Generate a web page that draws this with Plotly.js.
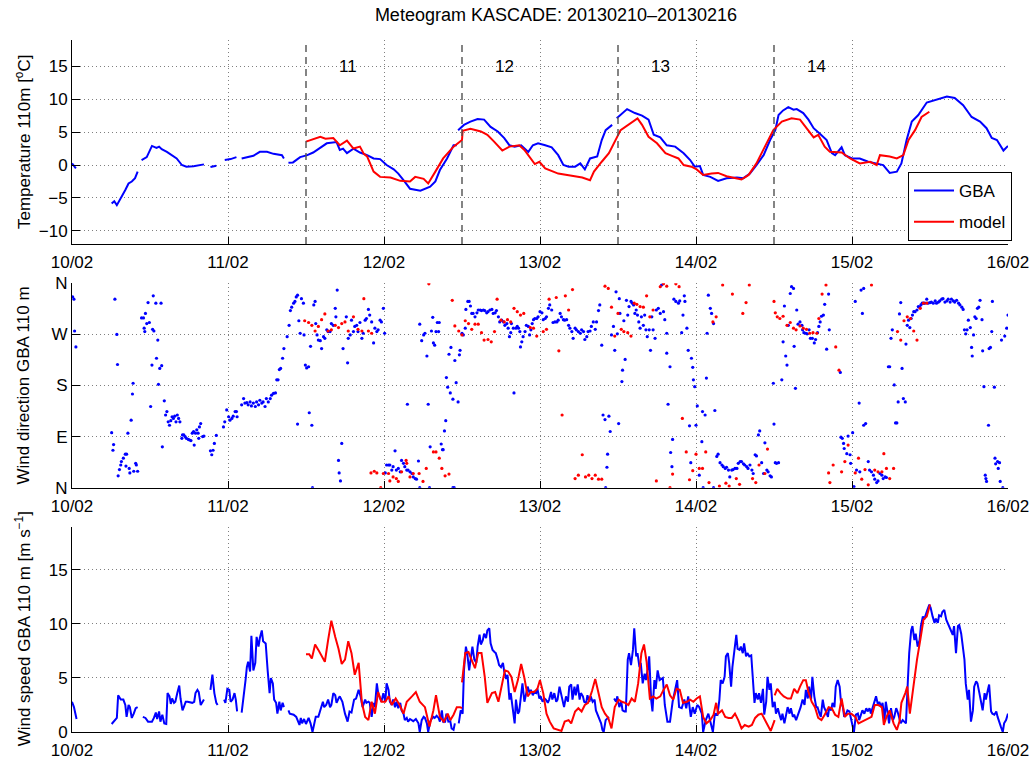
<!DOCTYPE html>
<html>
<head>
<meta charset="utf-8">
<script src="https://cdn.plot.ly/plotly-3.0.1.min.js"></script>
<style>html,body{margin:0;padding:0;background:#fff;}#chart{width:1035px;height:762px;}</style>
</head>
<body>
<div id="chart"></div>
<script>
// ---------- DATA (hours since 10/02/2013 00:00, value) ----------
const dayLabels = ['10/02','11/02','12/02','13/02','14/02','15/02','16/02'];
const runStartHours = [36, 60, 84, 108];
const runLabels = ['11','12','13','14'];
const dirTickVals = [0, 90, 180, 270, 360];
const dirTickText = ['N','E','S','W','N'];

// Temperature 110 m [°C]
const tempGBA = [[0,0.25],[0.6,-0.5],[3,null],
[6.1,-5.85],[6.5,-5.5],[6.9,-6.1],[7.7,-4.8],[8.2,-3.8],[8.7,-2.8],[9.2,-2.5],[9.7,-2.0],[10.1,-1.0],[10.4,null],
[10.7,0.76],[11.5,1.2],[12.3,2.9],[13.0,2.6],[13.4,2.8],[13.8,2.4],[14.6,2.0],[15.3,1.5],[16.1,1.0],[16.9,0],[17.6,-0.25],[18.7,-0.2],[19.7,0],[20.3,0.1],[20.8,null],
[21.3,-0.3],[22.2,-0.1],[22.8,null],
[23.5,0.76],[24.4,0.9],[25.3,1.2],[25.7,null],
[26.1,1.0],[27.9,1.4],[28.9,2.0],[30,2.0],[31,1.7],[32.3,1.5],[32.6,1.0],[33.0,null],
[33.3,0.35],[34,0.4],[35.1,1.2],[36.2,1.5],[37.1,1.9],[38.2,2.6],[39.2,3.3],[40.7,3.5],[41.2,2.3],[41.7,2.5],[42.3,1.8],[43.3,2.5],[44.3,1.9],[45.4,1.5],[46.4,1.0],[47.4,0.9],[48.4,0],[49.5,-0.66],[50.2,-1.3],[51,-2.3],[52,-3.6],[53.6,-3.9],[55.1,-3.3],[55.9,-2.5],[56.6,-0.76],[57.7,1.0],[58.7,3.0],[59.2,3.0],[59.3,null],
[59.4,5.3],[60.3,6.1],[61.3,6.6],[62.4,7.0],[63.4,6.9],[64.4,5.8],[65.5,5.1],[66.5,4.1],[67.3,3.0],[68.1,2.8],[69.1,3.0],[70.2,2.0],[70.9,3.0],[71.7,3.3],[72.8,3.0],[73.8,2.7],[74.8,1.5],[75.6,0],[76.4,-0.25],[77.4,-0.25],[78.2,0.25],[78.9,-0.66],[79.7,1.0],[80.8,1.3],[81.5,3.8],[82.1,5.3],[83.1,6.1],[83.5,null],
[83.8,7.1],[85.4,8.5],[86.6,7.9],[87.7,7.5],[88.7,6.9],[89.5,4.6],[90.5,4.2],[91.5,3.0],[92.8,2.8],[94.1,1.8],[95.1,0.76],[95.8,-0.25],[96.6,-0.15],[97.1,-1.5],[98.2,-1.8],[99.4,-2.4],[100.7,-2.0],[102.3,-1.9],[103.3,-2.0],[104.3,-1.3],[105.3,0],[106.4,1.5],[107.4,3.8],[108.2,5.3],[108.7,7.6],[109.4,8.3],[110.2,8.8],[111,8.4],[111.5,8.5],[112.5,7.9],[113.3,6.9],[114.1,5.6],[115.1,4.7],[116.1,3.8],[116.9,1.8],[117.4,1.5],[118.4,2.7],[118.9,1.5],[120,1.0],[121.2,1.0],[122.5,0.5],[123.8,0.25],[124.8,0],[125.8,-1.2],[126.9,-1.0],[127.6,0.25],[128.4,3.8],[129.2,6.6],[130.2,7.6],[131.5,9.5],[133,9.9],[134.6,10.4],[135.8,10.2],[137.1,9.1],[138.4,7.3],[139.7,6.6],[140.7,5.6],[141.5,4.1],[142.3,3.8],[143.3,2.2],[144,2.9]];

const tempModel = [[36,3.55],[37,3.9],[38.2,4.3],[39,4.0],[40.2,4.1],[41.2,3.0],[42.3,3.7],[43.3,2.5],[44.3,2.8],[44.9,1.7],[45.4,1.3],[46.4,-1.0],[47.4,-1.8],[49,-1.9],[50.5,-2.4],[52,-2.5],[52.8,-1.8],[54.1,-2.1],[54.8,-2.8],[55.9,-1.0],[57.1,1.0],[58.7,2.8],[60,3.8],
[60.1,5.2],[61.3,5.5],[62.9,5.1],[63.9,4.6],[64.9,3.6],[66.2,2.2],[67.3,2.8],[68.8,3.0],[69.6,2.3],[71.2,0.15],[71.9,0.5],[72.8,-0.5],[74.8,-1.3],[76.9,-1.7],[78.5,-1.9],[79.7,-2.3],[80.3,-1.0],[81.5,0.5],[82.6,1.8],[84.4,5.3],[85.7,6.2],[87,7.1],[87.7,6.1],[88.7,4.3],[90,3.3],[91.3,1.8],[92.3,1.4],[93.3,1.0],[94.1,0],[95.3,-0.25],[96.1,-0.66],[97.1,-1.5],[98.4,-1.3],[99.4,-1.2],[100.7,-1.7],[102,-2.0],[103,-2.2],[104.1,-1.5],[105.3,0.25],[106.6,2.8],[107.9,5.3],[109.2,6.6],[110.7,7.1],[112,6.9],[113,5.6],[114.1,4.2],[114.8,4.6],[115.8,2.8],[116.6,2.0],[117.6,1.9],[118.4,1.9],[119.7,1.0],[121.2,0.25],[122.8,0.5],[123.8,0],[124.3,1.5],[125.8,1.3],[126.9,1.0],[127.9,1.5],[128.7,3.8],[129.7,5.3],[130.7,7.3],[131.9,8.1]];

// Wind direction GBA 110 m [deg]
const dirGBA = [[0.1,336],[0.3,332],[0.4,276],[0.6,248],[6.1,97],[6.3,66],[6.4,76],[6.6,332],[6.9,270],[7.0,217],[7.1,21],[7.3,32],[7.5,40],[7.6,46],[7.9,52],[8.2,59],[8.3,38],[8.4,59],[8.6,96],[8.8,34],[8.9,26],[9.1,119],[9.3,165],[9.4,184],[9.5,29],[9.8,43],[9.9,40],[10.1,29],[10.7,299],[11.0,299],[11.1,281],[11.2,275],[11.3,307],[11.5,289],[11.7,326],[11.9,291],[12.1,143],[12.3,216],[12.4,279],[12.5,338],[12.6,276],[12.9,325],[13.0,228],[13.2,260],[13.3,182],[13.5,210],[13.7,325],[13.8,215],[13.9,72],[14.2,153],[14.4,128],[14.6,134],[14.8,116],[15.0,110],[15.2,118],[15.4,125],[15.6,122],[15.8,126],[16.0,116],[16.2,128],[16.4,122],[16.6,116],[16.9,87],[17.0,93],[17.2,93],[17.4,90],[17.6,87],[17.9,85],[18.1,84],[18.3,83],[18.5,96],[18.7,99],[18.8,75],[19.0,96],[19.2,102],[19.4,96],[19.5,87],[19.6,107],[19.8,113],[20.1,90],[20.3,91],[21.3,65],[21.5,58],[21.7,66],[21.9,78],[22.2,92],[23.3,107],[23.5,116],[23.8,137],[24.1,125],[24.3,119],[24.6,122],[24.8,126],[25.1,134],[25.3,134],[25.4,125],[26.1,146],[26.4,157],[26.6,149],[26.9,150],[27.1,146],[27.4,151],[27.6,144],[27.9,149],[28.2,143],[28.4,151],[28.7,146],[28.9,154],[29.2,149],[29.4,151],[29.7,143],[29.9,157],[30.2,151],[30.5,157],[30.7,163],[31.0,166],[31.3,167],[31.5,190],[31.7,190],[31.9,208],[32.1,210],[32.4,228],[32.6,245],[33.1,266],[33.4,286],[33.6,312],[33.8,318],[34.1,325],[34.3,328],[34.5,336],[34.7,339],[34.7,112],[34.9,294],[35.1,272],[35.3,333],[35.6,325],[35.7,269],[35.9,216],[36.1,211],[36.4,213],[36.5,132],[36.7,249],[36.9,110],[37.0,0],[37.2,322],[37.4,328],[37.5,289],[37.7,269],[37.9,260],[38.2,259],[38.4,245],[38.7,266],[38.9,263],[39.2,278],[39.4,275],[39.7,275],[39.9,289],[40.2,286],[40.5,316],[40.6,301],[40.8,348],[41.0,48],[41.1,26],[41.3,12],
[41.5,78],[41.7,245],[42.2,301],[42.4,220],[42.5,263],[42.8,269],[43.0,295],[43.3,275],[43.5,284],[43.8,286],[44.0,275],[44.3,291],[44.6,263],[44.8,272],[45.1,295],[45.3,298],[45.6,314],[45.8,304],[46.1,292],[46.4,255],[46.6,281],[46.9,275],[47.1,278],[47.4,295],[47.6,292],[47.9,316],[48.1,272],[48.2,26],[48.4,40],[48.7,40],[48.9,40],[49.2,31],[49.4,37],[49.7,65],[49.9,31],[50.2,34],[50.5,28],[50.7,48],[51.0,43],[51.2,37],[51.5,31],[51.6,147],[51.7,31],[52.0,28],[52.3,25],[52.5,19],[52.8,16],[53.0,15],[53.3,47],[53.5,0],[53.5,288],[53.8,259],[54.1,269],[54.3,272],[54.6,232],[54.8,147],[55.0,0],[55.1,72],[55.3,276],[55.5,300],[55.6,255],[55.8,251],[56.0,275],[56.2,291],[56.4,275],[56.5,291],[56.8,77],[57.0,67],[57.1,67],[57.3,100],[57.5,118],[57.6,194],[57.8,177],[58.0,235],[58.2,167],[58.3,247],[58.6,156],[58.6,0],[58.8,0],[58.9,224],[59.1,185],[59.4,151],[59.6,234],[59.7,242],[60.0,272],[60.2,269],[60.5,281],[60.6,314],[60.9,328],[61.1,328],[61.3,320],[61.5,307],[61.7,307],[62.0,301],[62.3,308],[62.5,313],[62.8,313],[63.0,312],[63.3,313],[63.5,312],[63.8,308],[64.0,310],[64.3,313],[64.6,314],[64.8,307],[65.1,308],[65.3,312],[65.6,301],[65.8,292],[66.1,295],[66.4,292],[66.6,286],[66.9,289],[67.1,281],[67.3,266],[67.5,273],[67.6,289],[67.9,281],[68.0,167],[68.3,281],[68.5,284],[68.7,281],[68.9,275],[69.0,248],[69.2,257],[69.4,266],[69.7,275],[69.9,286],[70.2,284],[70.4,269],[70.6,278],[70.8,289],[71.0,296],[71.2,298],[71.5,298],[71.7,301],[72.0,310],[72.3,308],[72.5,296],[72.8,298],[73.0,301],[73.3,316],[73.5,322],[73.8,313],[74.0,291],[74.3,292],[74.6,292],[74.8,295],[75.1,307],[75.3,301],[75.6,296],[75.8,295],[76.1,296],[76.4,286],[76.6,281],[76.9,275],[77.1,263],[77.4,281],[77.6,278],[77.9,275],[78.2,272],[78.4,278],[78.7,275],[78.9,261],[79.2,266],[79.4,275],[79.7,276],[79.9,284],[80.2,292],[80.5,279],[80.7,292],[81.0,312],[81.2,322],[81.5,251],[81.7,128],[82.0,120],[82.1,0],[82.3,36],[82.4,59],[82.6,126],[82.8,99],[83.0,269],[83.3,284],[83.5,242],[83.7,345],[83.9,271],[84.1,113],[84.2,333],[84.3,307],[84.6,187],[84.7,207],[84.9,294],[85.1,226],[85.3,330],[85.5,304],[85.7,319],[86.0,328],[86.2,325],[86.4,322],[86.6,307],[86.8,313],[87.0,304],[87.2,292],[87.4,281],[87.6,301],[87.9,286],[88.1,304],[88.3,278],[88.5,266],[88.8,278],[89.0,242],[89.2,301],[89.4,278],[89.7,263],[89.9,313],[90.2,316],
[90.5,307],[90.7,357],[91.0,310],[91.2,296],[91.5,272],[91.5,237],[91.7,147],[92.0,213],[92.1,62],[92.3,37],[92.4,85],[92.6,332],[92.9,328],[93.3,325],[93.5,329],[93.8,273],[94.0,304],[94.2,338],[94.3,328],[94.6,281],[94.8,242],[95.0,109],[95.2,44],[95.3,228],[95.5,212],[95.6,190],[95.8,178],[96.0,110],[96.2,144],[96.5,22],[96.9,81],[97.0,134],[97.1,0],[97.4,128],[97.6,193],[97.7,272],[97.9,339],[98.2,316],[98.4,307],[98.7,289],[98.7,0],[98.9,136],[99.2,55],[99.4,59],[99.7,44],[100.0,40],[100.2,37],[100.5,34],[100.7,36],[101.0,31],[101.2,19],[101.5,31],[101.7,32],[102.0,34],[102.3,34],[102.5,43],[102.8,46],[103.0,46],[103.3,42],[103.5,40],[103.8,37],[104.0,34],[104.3,40],[104.6,31],[104.8,25],[105.1,58],[105.3,56],[105.6,93],[105.8,100],[106.1,44],[106.4,25],[106.6,79],[106.9,31],[107.1,28],[107.4,21],[107.6,19],[107.9,184],[108.0,112],[108.2,44],[108.4,43],[108.7,44],[109.2,190],[109.4,257],[109.6,320],[109.8,232],[110.0,216],[110.2,286],[110.5,342],[110.7,354],[111.0,351],[111.1,249],[111.3,175],[111.5,313],[111.7,288],[112.0,292],[112.3,286],[112.4,278],[112.6,273],[112.9,272],[113.1,271],[113.4,278],[113.6,263],[113.9,263],[114.2,255],[114.4,261],[114.7,273],[114.9,284],[115.1,292],[115.3,302],[115.6,304],[115.8,323],[116.1,244],[116.4,341],[116.5,278],[118.2,203],[118.3,89],[118.5,87],[118.7,78],[118.8,69],[119.2,60],[119.4,91],[119.7,58],[119.8,43],[120.1,97],[120.3,2],[120.5,328],[120.7,31],[121.1,149],[121.2,28],[121.4,348],[121.6,307],[121.8,351],[121.8,110],[122.1,113],[122.5,46],[122.7,31],[123.0,28],[123.3,22],[123.5,15],[123.8,9],[124.0,12],[124.3,25],[124.6,22],[124.8,16],[125.1,19],[125.3,18],[125.6,213],[125.8,213],[126.0,263],[126.2,278],[126.5,181],[126.7,114],[126.9,114],[127.1,151],[127.3,306],[127.5,326],[127.7,210],[127.9,157],[128.2,151],[128.3,253],[128.5,286],[128.7,295],[128.9,282],[129.1,298],[129.3,304],[129.5,310],[129.7,310],[130.0,313],[130.2,319],[130.4,318],[130.6,322],[130.8,325],[131.0,325],[131.2,325],[131.5,332],[131.7,325],[132.0,326],[132.2,327],[132.5,325],[132.8,329],[133.0,325],[133.3,327],[133.5,329],[133.8,332],[134.0,333],[134.3,327],[134.6,329],[134.8,332],[135.1,327],[135.3,332],[135.6,329],[135.8,327],[136.1,330],[136.4,325],[136.6,322],[136.9,318],[137.1,314],[137.3,278],[137.5,271],[137.7,278],[137.9,295],[138.2,282],[138.4,247],[138.5,232],[138.7,269],[138.9,301],[139.1,298],[139.3,316],[139.5,318],[139.7,330],[140.0,296],[140.1,241],[140.3,178],[140.5,22],[140.6,16],[140.7,11],[141.0,110],[141.1,245],[141.3,247],[141.5,275],[141.6,328],[141.9,177],[142.0,52],[142.1,42],[142.4,46],[142.5,34],[142.7,44],[142.8,11],[143.0,260],[143.2,0],[143.5,267],[143.8,281],[144.0,304]];

const dirModel = [[35.8,294],[36.4,291],[36.9,286],[37.4,276],[37.9,284],[38.4,296],[38.9,306],[39.4,276],[39.9,278],[40.5,286],[41.0,282],[41.5,289],[42.0,292],[42.5,276],[43.3,301],[44.0,279],[44.6,276],[44.9,333],[45.6,276],[46.0,26],[46.1,272],[46.5,29],[46.9,26],[47.5,0],[47.9,25],[48.7,25],[48.9,12],[49.4,19],[49.9,16],[50.2,11],[50.7,28],[51.4,48],[51.5,43],[52.0,19],[52.5,25],[53.4,25],[54.0,11],[54.5,34],[54.9,359],[55.6,63],[56.0,63],[56.5,52],[56.9,34],[57.4,21],[58.0,24],[58.5,330],[58.9,285],[59.5,276],[60.0,269],[60.5,294],[61.0,289],[61.5,279],[62.0,288],[62.5,288],[63.0,273],[63.4,260],[64.0,261],[64.5,257],[65.0,275],[65.4,332],[66.0,295],[66.5,292],[67.0,296],[67.5,292],[68.0,316],[68.5,310],[69.0,304],[69.5,307],[70.5,282],[71.0,281],[71.5,267],[72.5,275],[73.0,279],[73.4,332],[74.5,335],[74.9,241],[75.4,128],[75.9,338],[76.4,313],[77.0,349],[77.4,16],[77.9,22],[78.5,58],[79.0,19],[79.5,22],[80.0,16],[80.5,22],[81.0,15],[81.5,15],[82.0,355],[82.5,351],[83.0,318],[83.5,267],[84.0,307],[84.5,279],[84.9,275],[85.5,273],[86.0,267],[86.5,325],[86.9,323],[87.4,319],[87.9,318],[88.4,338],[88.9,301],[89.4,313],[89.9,12],[90.5,354],
[91.0,359],[91.5,355],[92.0,0],[92.4,24],[92.9,359],[93.4,354],[93.9,122],[94.5,63],[95.0,14],[95.5,30],[96.0,59],[96.5,34],[97.0,34],[97.5,63],[98.0,9],[98.6,292],[99.1,301],[99.6,3],[100.1,357],[100.6,8],[101.1,3],[101.6,341],[102.2,16],[102.7,6],[103.2,307],[103.7,326],[104.2,357],[104.7,16],[105.2,9],[105.7,40],[106.6,25],[107.0,68],[108.0,328],[108.2,308],[108.5,301],[108.9,298],[109.4,302],[110.0,286],[110.5,291],[111.0,281],[111.4,278],[112.0,285],[112.5,281],[113.0,279],[113.5,272],[114.0,273],[114.6,272],[114.9,298],[115.4,341],[116.0,357],[116.4,26],[116.6,9],[117.1,40],[117.5,248],[118.0,207],[118.4,28],[118.9,46],[119.4,75],[120.5,26],[121.0,52],[121.5,15],[122.0,32],[122.5,5],[123.0,357],[123.5,31],[124.0,28],[124.6,28],[124.9,60],[125.3,34],[125.8,16],[126.4,34],[127.0,275],[127.5,260],[128.0,294],[128.5,301],[129.0,298],[129.5,276],[130.0,260],[130.5,316],[131.0,325],[131.5,325]];

// Wind speed GBA 110 m [m/s]
const speedGBA = [[0,2.8],[0.3,2.3],[0.7,1.2],[3,null],
[6.1,0.74],[6.6,1.1],[6.9,1.3],[7.1,3.4],[7.5,3.0],[7.9,3.0],[8.2,2.5],[8.4,1.4],[8.7,2.5],[8.9,2.3],[9.2,1.3],[9.5,1.7],[9.8,2.2],[10.1,2.3],[10.5,null],
[10.9,1.4],[11.3,1.3],[11.7,0.96],[12.3,0.96],[12.6,1.3],[12.9,1.8],[13.1,1.2],[13.4,1.9],[13.6,0.96],[13.9,1.6],[14.2,0.8],[14.5,0.74],[14.7,3.6],[15.0,3.3],[15.2,2.6],[15.4,3.1],[15.7,2.7],[15.9,2.8],[16.2,3.6],[16.5,4.3],[16.7,3.1],[17.0,2.0],[17.2,2.3],[17.5,2.8],[17.8,2.8],[18.2,2.7],[18.5,2.7],[18.8,2.8],[19.0,3.6],[19.3,3.9],[19.5,3.7],[19.8,2.5],[20.1,2.8],[20.3,3.0],[20.8,null],
[21.3,3.9],[21.6,5.3],[21.9,3.6],[22.2,2.7],[22.4,2.5],[22.9,null],
[23.4,3.0],[23.6,2.7],[23.9,4.0],[24.2,3.9],[24.4,2.8],[24.7,3.0],[25.0,3.6],[25.2,3.0],[25.4,1.9],[25.8,null],
[26.1,1.8],[26.4,3.1],[26.7,4.8],[26.9,6.0],[27.1,6.5],[27.4,5.6],[27.6,8.9],[27.9,5.7],[28.2,6.4],[28.4,8.8],[28.7,7.9],[28.9,8.7],[29.2,9.4],[29.4,8.4],[29.8,8.2],[30.1,5.7],[30.4,3.6],[30.6,5.0],[30.9,4.5],[31.1,3.0],[31.4,2.7],[31.6,1.7],[31.9,2.8],[32.1,2.0],[32.4,2.7],[32.6,2.3],[33.0,null],
[33.3,2.0],[33.5,1.7],[34.1,1.6],[34.5,1.4],[34.7,1.1],[35.0,0.65],[35.2,1.3],[35.4,0.8],[35.7,1.2],[36.0,0.74],[36.4,1.3],[36.7,0.8],[37.0,0],[37.2,0.65],[37.5,1.4],[37.9,1.4],[38.3,2.3],[38.6,2.8],[38.8,2.3],[39.1,2.5],[39.4,3.0],[39.7,2.3],[39.9,2.5],[40.2,3.6],[40.5,3.4],[40.7,2.7],[41.0,3.1],[41.2,3.3],[41.6,2.8],[42.0,1.7],[42.4,0.96],[42.7,1.9],[43.0,1.8],[43.4,3.0],[43.7,3.1],[44.1,3.9],[44.4,3.3],[44.7,2.3],[45.1,3.0],[45.3,2.7],[45.6,2.8],[45.8,2.7],[46.1,1.4],[46.4,2.7],[46.6,2.3],[46.9,4.5],[47.1,3.6],[47.4,3.0],[47.6,2.8],[47.9,3.6],[48.2,2.8],[48.4,4.5],[48.7,3.9],[48.9,2.8],[49.2,2.5],[49.4,3.0],[49.7,2.3],[49.9,2.8],[50.2,2.2],[50.5,2.7],[50.7,2.0],[51.0,1.7],[51.2,1.1],[51.5,1.3],[51.7,0.96],[52.0,1.2],[52.3,1.1],[52.5,1.0],[52.9,1.2],[53.3,0.8],[53.5,0],[53.8,1.1],[54.1,1.4],[54.3,1.3],[54.6,0.8],[54.8,0],[55.1,0.96],[55.3,1.2],[55.6,1.4],[55.8,1.3],[56.1,1.5],[56.4,1.3],[56.6,0.96],[56.9,2.0],[57.1,0.96],[57.4,0.96],[57.6,1.7],[57.9,0.96],[58.2,1.0],[58.4,0.34],[58.7,0.2],[58.9,0.8],[59.2,null],
[59.5,0.8],[59.8,2.0],[60.1,1.7],[60.3,5.7],[60.6,7.9],[60.8,7.3],[61.1,5.7],[61.4,7.3],[61.6,7.9],[61.9,6.7],[62.2,6.4],[62.4,7.9],[62.7,9.0],[62.9,8.1],[63.2,8.5],[63.4,9.1],[63.7,8.7],[63.9,9.4],[64.2,9.6],[64.4,8.2],[64.7,7.6],[65.0,7.4],[65.2,7.3],[65.5,6.7],[65.7,6.2],[66.0,6.0],[66.3,6.4],[66.5,5.6],[66.8,4.9],[67.0,5.3],[67.3,3.0],[67.5,3.6],[67.8,2.3],[68.1,0.8],[68.3,3.0],[68.6,1.7],[68.8,1.9],[69.1,3.3],[69.3,4.5],[69.6,2.8],[69.8,3.3],[70.1,4.2],[70.4,3.6],[70.6,3.9],[70.9,3.4],[71.1,3.7],[71.4,3.6],[71.6,4.0],[71.9,3.1],[72.1,3.3],[72.4,2.8],[72.7,3.1],[72.9,3.0],[73.2,2.7],[73.4,3.0],[73.7,3.7],[73.9,3.0],[74.2,3.6],[74.5,2.8],[74.7,3.0],[75.0,4.2],[75.2,3.7],[75.5,3.0],[75.7,2.3],[76.0,3.3],[76.3,2.8],[76.5,4.2],[76.8,4.4],[77.0,3.0],[77.3,4.2],[77.5,3.4],[77.8,4.4],[78.1,3.0],[78.3,3.6],[78.6,3.3],[78.8,2.8],[79.1,2.7],[79.3,3.4],[79.6,2.8],[79.8,3.3],[80.1,2.8],[80.4,3.0],[80.6,2.0],[80.9,1.6],[81.1,1.3],[81.4,0.8],[81.6,0.2],[81.8,0],[82.1,1.1],[82.4,1.3],[82.6,1.4],[83.0,null],
[83.4,3.1],[83.7,2.8],[83.9,3.3],[84.2,2.3],[84.5,2.8],[84.7,2.0],[85.0,1.9],[85.2,1.9],[85.5,6.7],[85.7,7.3],[86.0,6.2],[86.3,7.6],[86.5,9.6],[86.8,7.0],[87.0,7.3],[87.3,6.0],[87.5,6.4],[87.8,4.5],[88.1,5.4],[88.3,4.8],[88.6,5.9],[88.8,7.0],[89.1,3.0],[89.3,1.9],[89.6,4.8],[89.8,4.0],[90.1,5.7],[90.4,4.8],[90.9,5.0],[91.2,2.5],[91.6,0.96],[92.0,0.96],[92.4,2.8],[92.8,4.0],[93.1,4.8],[93.4,2.3],[93.8,2.2],[94.2,3.0],[94.5,2.2],[94.8,3.3],[95.2,1.4],[95.5,2.3],[95.8,1.7],[96.2,2.5],[96.5,2.3],[96.9,1.7],[97.1,0],[97.5,1.1],[97.9,1.7],[98.3,0.74],[98.6,0],[98.9,1.7],[99.3,1.6],[99.6,3.0],[99.8,4.8],[100.1,4.5],[100.4,5.1],[100.6,7.0],[100.9,7.3],[101.1,6.4],[101.4,4.2],[101.6,6.0],[101.9,7.6],[102.2,9.0],[102.4,7.7],[102.7,7.6],[102.9,7.9],[103.2,7.3],[103.4,8.2],[103.7,7.0],[103.9,7.3],[104.2,7.0],[104.5,7.1],[104.7,5.1],[105.0,2.7],[105.2,3.6],[105.5,3.0],[105.7,3.6],[106.0,2.7],[106.3,4.0],[106.5,1.6],[106.8,2.8],[107.0,5.1],[107.3,3.9],[107.5,4.5],[107.8,2.3],[108.1,2.8],[108.3,1.7],[108.6,2.2],[108.8,1.7],[109.1,1.1],[109.3,1.7],[109.6,0.8],[109.8,1.4],[110.1,2.3],[110.4,1.7],[110.6,2.2],[110.9,1.4],[111.1,1.6],[111.4,1.1],[111.6,1.4],[111.9,2.0],[112.1,2.3],[112.4,3.0],[112.7,2.5],[112.9,3.9],[113.2,3.1],[113.4,4.2],[113.7,3.0],[113.9,5.1],[114.2,3.3],[114.5,2.3],[114.7,2.3],[115.0,1.7],[115.2,1.4],[115.5,3.0],[115.7,2.3],[116.0,1.9],[116.3,1.4],[116.5,2.3],[116.8,2.0],[117.0,2.7],[117.3,2.3],[117.5,4.2],[117.8,4.8],[118.1,4.2],[118.3,2.8],[118.6,2.3],[118.8,1.4],[119.1,1.7],[119.3,2.0],[119.6,1.9],[119.8,1.4],[120.1,0.5],[120.3,0],[120.6,1.6],[120.9,1.7],[121.1,1.1],[121.4,1.7],[121.6,2.0],[121.9,1.7],[122.2,2.2],[122.4,1.9],[122.7,2.2],[122.9,1.7],[123.2,2.3],[123.4,2.8],[123.7,3.3],[124.0,2.5],[124.2,2.8],[124.5,2.3],[124.7,2.7],[125.0,1.1],[125.2,2.8],[125.5,1.7],[125.7,0.8],[126.0,2.2],[126.3,1.1],[126.5,1.4],[126.8,2.2],[127.0,1.9],[127.3,1.1],[127.5,0.8],[127.8,1.1],[128.0,0.96],[128.3,0.8],[128.6,4.8],[128.8,7.3],[129.1,9.4],[129.3,9.8],[129.6,8.5],[129.8,9.1],[130.1,7.9],[130.4,8.5],[130.6,9.8],[130.9,10.7],[131.1,10.4],[131.4,11.1],[131.6,11.3],[131.9,11.8],[132.1,11.5],[132.4,10.7],[132.7,10.1],[132.9,10.5],[133.2,10.1],[133.4,10.8],[133.7,10.7],[133.9,11.1],[134.2,11.3],[134.5,10.4],[134.7,10.1],[135.0,9.8],[135.2,9.4],[135.5,9.0],[135.7,9.8],[136.0,7.3],[136.3,9.8],[136.5,9.9],[136.8,9.1],[137.0,7.9],[137.3,6.7],[137.5,4.5],[137.8,3.0],[138.0,3.9],[138.3,0.96],[138.6,2.0],[138.8,4.2],[139.1,4.7],[139.3,4.5],[139.6,3.6],[139.8,3.0],[140.1,2.0],[140.4,3.6],[140.6,3.0],[140.9,3.9],[141.1,4.4],[141.4,1.9],[141.6,1.7],[141.9,1.6],[142.2,1.9],[142.4,1.4],[142.7,0.96],[142.9,0.5],[143.2,0],[143.4,0.8],[143.7,1.1],[144.0,1.7]];

const speedModel = [[36.0,7.2],[36.5,7.2],[36.9,6.8],[37.4,8.1],[37.9,7.6],[38.4,7.1],[38.9,6.5],[39.4,8.5],[39.9,10.3],[40.5,8.8],[41.0,7.7],[41.5,6.3],[42.0,6.7],[42.5,8.4],[43.0,7.3],[43.5,5.3],[44.1,6.4],[44.6,2.7],[45.1,1.4],[45.6,1.1],[46.1,2.8],[46.6,1.7],[47.1,3.7],[47.6,2.8],[48.2,2.8],[48.7,3.3],[49.2,2.5],[49.8,3.1],[50.4,2.5],[51.0,1.7],[51.5,2.8],[52.3,3.3],[52.9,3.7],[53.5,2.8],[54.3,2.3],[55.0,0.5],[55.6,2.0],[56.0,3.4],[56.6,1.4],[57.2,0.96],[57.8,1.7],[58.2,1.1],[58.7,1.6],[59.2,2.3],[59.7,2.3],[60.0,2.2],[60.0,null],
[60.0,4.6],[60.5,7.3],[61.0,7.4],[61.5,6.7],[62.0,5.9],[62.5,7.3],[63.0,7.3],[63.5,5.1],[63.9,2.7],[64.6,3.6],[65.1,3.7],[65.6,2.8],[66.1,4.2],[66.6,5.7],[67.1,5.6],[67.6,5.1],[68.1,3.7],[68.6,4.8],[69.1,6.3],[69.6,5.0],[70.1,3.3],[70.6,3.7],[71.1,3.7],[71.6,4.0],[72.0,4.8],[72.5,3.6],[73.0,1.7],[73.5,0.96],[74.1,0.34],[74.8,0.2],[75.3,0.1],[75.8,0.96],[76.4,1.1],[76.8,0.8],[77.4,1.9],[77.9,2.2],[78.4,1.9],[78.9,2.5],[79.4,2.7],[80.0,3.8],[80.5,4.9],[81.0,3.6],[81.5,2.3],[82.0,1.7],[82.5,1.3],[83.0,0.34],[83.5,2.3],[84.1,3.0],[84.6,2.8],[85.1,2.7],[85.6,2.5],[86.1,3.1],[86.6,2.8],[87.1,4.5],[87.6,7.3],[88.0,8.1],[88.4,6.5],[88.9,3.1],[89.4,3.3],[89.9,3.1],[90.5,3.3],[91.0,3.9],[91.5,4.4],[92.0,3.4],[92.5,3.0],[93.0,4.0],[93.5,3.9],[94.0,2.7],[94.6,2.8],[95.1,3.0],[95.6,2.8],[96.1,3.1],[96.6,3.3],[97.1,1.4],[97.6,0.8],[98.2,1.1],[98.7,1.6],[99.1,2.7],[99.4,1.7],[100.0,2.0],[100.5,1.4],[101.0,1.3],[101.5,1.3],[102.0,1.7],[102.5,1.1],[103.0,0.34],[103.5,0.65],[104.1,0.5],[104.6,0.65],[105.1,1.3],[105.6,1.6],[106.1,1.7],[106.6,1.1],[107.1,0.65],[107.5,0.1],[108.1,1.1],[108.1,null],
[108.1,3.4],[108.5,4.0],[109.0,3.6],[109.5,3.3],[110.1,3.1],[110.6,3.1],[111.1,4.0],[111.6,3.6],[112.0,4.2],[112.5,4.8],[112.9,4.8],[113.3,3.7],[113.8,2.8],[114.3,2.3],[114.8,1.3],[115.3,1.1],[115.8,1.6],[116.4,2.3],[116.9,2.2],[117.4,1.6],[117.9,1.4],[118.4,3.1],[118.9,1.4],[119.4,1.7],[119.9,1.7],[120.5,1.4],[121.0,0.8],[121.5,0.96],[122.0,1.1],[122.5,1.3],[123.0,1.4],[123.5,2.5],[124.0,2.5],[124.6,2.3],[124.9,0.65],[125.3,1.4],[125.8,2.0],[126.4,0.8],[126.9,0.2],[127.3,0.96],[127.6,2.7],[128.2,3.6],[128.5,4.2],[128.9,1.7],[129.4,4.2],[130.0,6.7],[130.5,8.5],[131.0,10.4],[131.5,10.7],[132.0,11.8]];

// ---------- helpers ----------
const T0 = Date.UTC(2013, 1, 10);
function hToDate(h){
  const d = new Date(T0 + Math.round(h*3600000));
  return d.toISOString().slice(0,19).replace('T',' ');
}
const xs = arr => arr.map(p => hToDate(p[0]));
const ys = arr => arr.map(p => p[1]);

const BLUE = '#0000ff', RED = '#ff0000';
const FONT = '"Liberation Sans", Arial, Helvetica, sans-serif';
const FS = 17;

const traces = [
  {x: xs(tempGBA), y: ys(tempGBA), type:'scatter', mode:'lines', name:'GBA', legendgroup:'a',
   line:{color:BLUE, width:2}, xaxis:'x', yaxis:'y'},
  {x: xs(tempModel), y: ys(tempModel), type:'scatter', mode:'lines', name:'model', legendgroup:'b',
   line:{color:RED, width:2}, xaxis:'x', yaxis:'y'},
  {x: xs(dirGBA), y: ys(dirGBA), type:'scatter', mode:'markers', name:'GBA dir', showlegend:false,
   marker:{color:BLUE, size:3.2}, xaxis:'x2', yaxis:'y2'},
  {x: xs(dirModel), y: ys(dirModel), type:'scatter', mode:'markers', name:'model dir', showlegend:false,
   marker:{color:RED, size:3.2}, xaxis:'x2', yaxis:'y2'},
  {x: xs(speedGBA), y: ys(speedGBA), type:'scatter', mode:'lines', name:'GBA speed', showlegend:false,
   line:{color:BLUE, width:2}, xaxis:'x3', yaxis:'y3'},
  {x: xs(speedModel), y: ys(speedModel), type:'scatter', mode:'lines', name:'model speed', showlegend:false,
   line:{color:RED, width:2}, xaxis:'x3', yaxis:'y3'}
];

const dayTicks = dayLabels.map((_, i) => hToDate(i*24));
function xAxis(anchor){
  return {
    type:'date', anchor:anchor, domain:[0,1],
    range:[dayTicks[0], dayTicks[dayTicks.length-1]],
    tickmode:'array', tickvals:dayTicks, ticktext:dayLabels,
    ticks:'inside', ticklen:7, tickwidth:1, tickcolor:'#000', ticklabelstandoff:3,
    showline:true, linecolor:'#000', linewidth:1,
    showgrid:true, gridcolor:'#7f7f7f', gridwidth:1, griddash:'1px,3px',
    zeroline:false, tickfont:{size:FS, family:FONT, color:'#000'}, fixedrange:true
  };
}
function yAxis(anchor, domain, range, tickvals, ticktext){
  const a = {
    anchor:anchor, domain:domain, range:range,
    tickmode:'array', tickvals:tickvals,
    ticks:'inside', ticklen:8, tickwidth:1, tickcolor:'#000',
    showline:true, linecolor:'#000', linewidth:1,
    showgrid:true, gridcolor:'#7f7f7f', gridwidth:1, griddash:'1px,3px',
    zeroline:false, tickfont:{size:FS, family:FONT, color:'#000'}, fixedrange:true
  };
  if (ticktext) a.ticktext = ticktext;
  return a;
}

const shapes = runStartHours.map(h => ({
  type:'line', xref:'x', yref:'y domain', x0:hToDate(h), x1:hToDate(h), y0:0, y1:1,
  line:{color:'#505050', width:1.4, dash:'7px,5px'}
}));

const annotations = runStartHours.map((h, i) => ({
  xref:'x', yref:'y', x:hToDate(h + 4.8), y:15, text:runLabels[i],
  xanchor:'left', yanchor:'middle', showarrow:false, font:{size:FS, family:FONT, color:'#000'}
}));
const yTitleX = -49/936;
[['y domain','Temperature 110m [<sup>o</sup>C]'],
 ['y2 domain','Wind direction GBA 110 m'],
 ['y3 domain','Wind speed GBA 110 m [m s<sup>−1</sup>]']].forEach(([ref, txt]) => {
  annotations.push({xref:'paper', yref:ref, x:yTitleX, y:0.5, text:txt, textangle:-90,
    xanchor:'center', yanchor:'middle', showarrow:false, font:{size:FS, family:FONT, color:'#000'}});
});

const layout = {
  width:1035, height:762,
  margin:{l:72, r:27, t:40, b:30, pad:0},
  paper_bgcolor:'#fff', plot_bgcolor:'#fff',
  font:{family:FONT, size:FS, color:'#000'},
  title:{text:'Meteogram KASCADE: 20130210–20130216', xref:'container', x:556/1035, xanchor:'center',
         yref:'container', y:1-15/762, yanchor:'middle', font:{size:18, family:FONT, color:'#000'}},
  showlegend:true,
  legend:{x:(908-72)/936, y:(732-172)/692, xanchor:'left', yanchor:'top',
          bgcolor:'#fff', bordercolor:'#000', borderwidth:1,
          font:{size:FS, family:FONT, color:'#000'}, itemwidth:40,
          traceorder:'grouped', tracegroupgap:6},
  xaxis: xAxis('y'),
  xaxis2: Object.assign(xAxis('y2'), {matches:'x'}),
  xaxis3: Object.assign(xAxis('y3'), {matches:'x'}),
  yaxis: yAxis('x', [(732-244)/692, 1], [-12, 19], [-10,-5,0,5,10,15]),
  yaxis2: yAxis('x2', [(732-487.7)/692, (732-283.3)/692], [0, 360], dirTickVals, dirTickText),
  yaxis3: yAxis('x3', [0, (732-526.7)/692], [0, 19], [0,5,10,15]),
  shapes: shapes,
  annotations: annotations
};

Plotly.newPlot('chart', traces, layout, {displayModeBar:false, staticPlot:true});
</script>
</body>
</html>
